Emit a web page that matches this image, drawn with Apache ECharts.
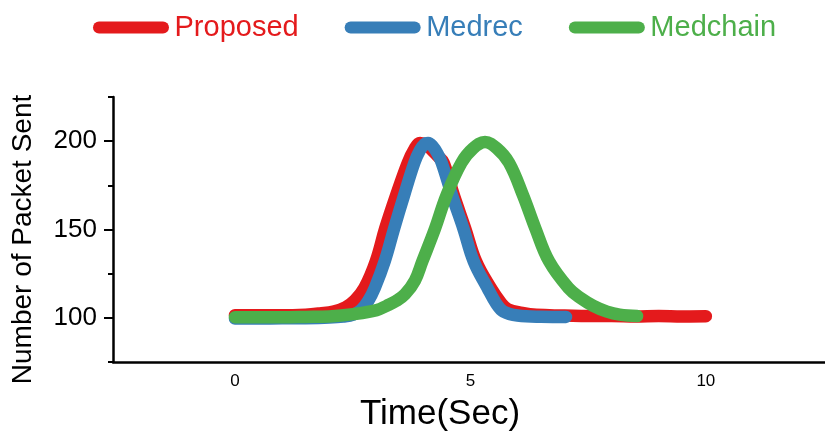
<!DOCTYPE html>
<html>
<head>
<meta charset="utf-8">
<script src="https://cdn.jsdelivr.net/npm/echarts@6/dist/echarts.min.js"></script>
<style>
html,body{margin:0;padding:0;background:#fff;}
#chart{width:825px;height:437px;}
</style>
</head>
<body>
<div id="chart"></div>
<script>
// ---- data ----
const seriesNames = ['Proposed', 'Medrec', 'Medchain'];

const proposedTime  = [0, 0.5, 1, 1.5, 1.8, 2.09, 2.35, 2.55, 2.75, 2.99, 3.19, 3.42, 3.67, 3.8, 3.93, 4.05, 4.2, 4.31, 4.43, 4.65, 4.89, 5.12, 5.43, 5.65, 5.8, 6.1, 6.4, 7, 7.5, 8, 8.5, 9, 9.5, 10];
const proposedValue = [101.5, 101.5, 101.4, 101.8, 102.5, 103.5, 106, 110, 117, 132, 150.6, 169.2, 187.8, 195, 199, 198, 194.5, 191.5, 187.8, 169.2, 150.6, 132, 117, 108.5, 104.8, 102.8, 101.7, 101.3, 101, 101, 100.8, 101, 100.8, 100.9];

const medrecTime  = [0, 0.5, 1, 1.5, 2, 2.3, 2.51, 2.68, 2.83, 2.97, 3.18, 3.38, 3.59, 3.81, 3.93, 4.03, 4.1, 4.2, 4.3, 4.39, 4.61, 4.85, 5.07, 5.36, 5.55, 5.7, 6.0, 6.5, 7.03];
const medrecValue = [99.6, 99.6, 99.7, 99.8, 100.2, 100.8, 101.8, 104.5, 109.6, 117, 132, 150.6, 169.2, 187.8, 195, 198.5, 199, 197, 193, 187.8, 169.2, 150.6, 132, 117, 108, 103.6, 101.3, 100.6, 100.5];

const medchainTime  = [0, 0.5, 1, 1.5, 2, 2.51, 3.01, 3.22, 3.42, 3.61, 3.82, 3.98, 4.25, 4.49, 4.81, 5.06, 5.31, 5.56, 5.82, 6.12, 6.38, 6.67, 7.08, 7.35, 7.61, 7.9, 8.17, 8.54];
const medchainValue = [100.4, 100.3, 100.3, 100.5, 100.8, 102.1, 104.4, 106.8, 109.5, 113.3, 121, 132, 150.6, 169.2, 187.8, 196, 199.5, 196, 187.8, 169.2, 150.6, 132, 117, 111, 106.8, 103.5, 101.8, 101];

const xTickLabels = [0, 5, 10];
const yTickLabels = [100, 150, 200];
const yMinorTicks = [75, 125, 175, 225];

const xAxisTitle = 'Time(Sec)';
const yAxisTitle = 'Number of Packet Sent';

const colors = ['#e41a1c', '#377eb8', '#4daf4a'];
// ---------------------------------------

function pairs(t, v) { return t.map((x, i) => [x, v[i]]); }
const seriesData = [pairs(proposedTime, proposedValue), pairs(medrecTime, medrecValue), pairs(medchainTime, medchainValue)];

const FONT = 'Liberation Sans, Arial, sans-serif';
const capsule = 'path://M6,0 L70,0 A6,6 0 0 1 70,12 L6,12 A6,6 0 0 1 6,0 Z';

const chart = echarts.init(document.getElementById('chart'), null, {renderer: 'canvas'});
chart.setOption({
  backgroundColor: '#fff',
  animation: false,
  color: colors,
  legend: {
    left: 88,
    top: 8,
    itemWidth: 77,
    itemHeight: 12,
    itemGap: 46,
    icon: capsule,
    data: seriesNames.map((n, i) => ({name: n, textStyle: {color: colors[i]}})),
    textStyle: {fontFamily: FONT, fontSize: 29}
  },
  grid: {left: 113, right: 0, top: 97, bottom: 72, containLabel: false},
  xAxis: {
    type: 'value',
    min: -2.59,
    max: 12.53,
    name: xAxisTitle,
    nameLocation: 'middle',
    nameGap: 35,
    nameTextStyle: {fontFamily: FONT, fontSize: 35, color: '#000', padding: [0, 58, 0, 0]},
    splitLine: {show: false},
    axisLine: {show: true, onZero: false, lineStyle: {color: '#000', width: 2.5}},
    axisTick: {show: false},
    axisLabel: {customValues: xTickLabels, fontFamily: FONT, fontSize: 17, color: '#000', margin: 11}
  },
  yAxis: [{
    type: 'value',
    min: 75,
    max: 225,
    name: yAxisTitle,
    nameLocation: 'middle',
    nameGap: 76,
    nameTextStyle: {fontFamily: FONT, fontSize: 28, color: '#000', padding: [0, 20, 0, 0]},
    splitLine: {show: false},
    axisLine: {show: true, onZero: false, lineStyle: {color: '#000', width: 2.5}},
    axisTick: {show: true, customValues: yTickLabels, length: 9, lineStyle: {color: '#000', width: 2}},
    axisLabel: {customValues: yTickLabels, fontFamily: FONT, fontSize: 26, color: '#000', margin: 16}
  }, {
    type: 'value',
    min: 75,
    max: 225,
    position: 'left',
    splitLine: {show: false},
    axisLine: {show: false, onZero: false},
    axisTick: {show: true, customValues: yMinorTicks, length: 5, lineStyle: {color: '#000', width: 2}},
    axisLabel: {show: false}
  }],
  series: seriesNames.map((n, i) => ({
    name: n,
    type: 'line',
    yAxisIndex: 0,
    data: seriesData[i],
    smooth: 0.4,
    showSymbol: false,
    symbol: 'none',
    lineStyle: {width: 12.5, color: colors[i], cap: 'round', join: 'round'},
    itemStyle: {color: colors[i]}
  }))
});
</script>
</body>
</html>
